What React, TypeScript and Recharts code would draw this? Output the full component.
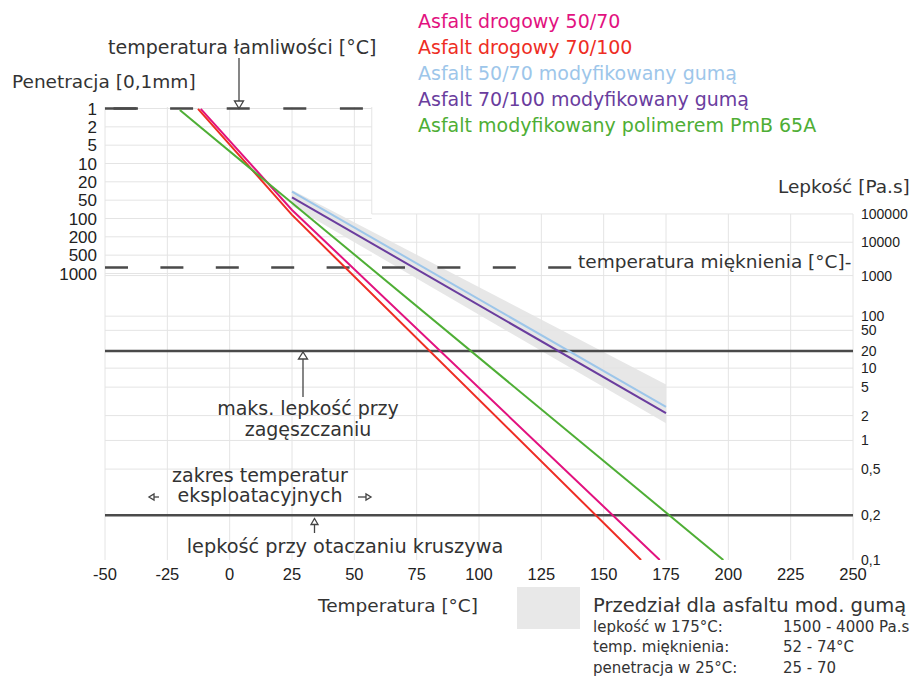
import React from 'react';
import { ComposedChart, Line, Area, XAxis, YAxis, ReferenceLine, Legend } from 'recharts';

// ---------------- data ----------------
const temperatureTicks = [-50, -25, 0, 25, 50, 75, 100, 125, 150, 175, 200, 225, 250];
const penetrationTicks = [1, 2, 5, 10, 20, 50, 100, 200, 500, 1000];
const penetrationLabels = ['1', '2', '5', '10', '20', '50', '100', '200', '500', '1000'];
const viscosityTicks = [0.1, 0.2, 0.5, 1, 2, 5, 10, 20, 50, 100, 1000, 10000, 100000];
const viscosityLabels = ['0,1', '0,2', '0,5', '1', '2', '5', '10', '20', '50', '100', '1000', '10000', '100000'];

const seriesNames = [
  'Asfalt drogowy 50/70',
  'Asfalt drogowy 70/100',
  'Asfalt 50/70 modyfikowany gumą',
  'Asfalt 70/100 modyfikowany gumą',
  'Asfalt modyfikowany polimerem PmB 65A',
];
const seriesColors = ['#e2127f', '#ee2d24', '#9dc6ea', '#6a3d9e', '#4eae35'];

// temperature [°C] and viscosity [Pa.s] along each line
const temp5070 = [-11.6, 25, 172.5];
const visc5070 = [2.4e10, 1.43e5, 0.1];
const temp70100 = [-12.7, 25, 165];
const visc70100 = [2.4e10, 9.2e4, 0.1];
const tempRubber5070 = [25, 175];
const viscRubber5070 = [8.0e5, 2.6];
const tempRubber70100 = [25, 175];
const viscRubber70100 = [4.6e5, 2.15];
const tempPmB = [-20, 198];
const viscPmB = [2.0e10, 0.1];

// range for rubber modified bitumen
const bandTemp = [25, 175];
const bandViscLow = [2.04e5, 1.6];
const bandViscHigh = [9.5e5, 5.5];

const fraassPenetration = 1;
const softeningPenetration = 800;
const compactionMaxViscosity = 20;
const mixingViscosity = 0.2;

const bandInfoLabels = ['lepkość w 175°C:', 'temp. mięknienia:', 'penetracja w 25°C:'];
const bandInfoValues = ['1500 - 4000 Pa.s', '52 - 74°C', '25 - 70'];

// ---------------- scales ----------------
const VISC_OFFSET = 130;
const tv = (eta: number) => Math.log10(Math.log10(eta * VISC_OFFSET));
const penIndex = (p: number) => {
  const v = penetrationTicks;
  if (p <= v[0]) return 0;
  for (let i = 0; i < v.length - 1; i++) {
    if (p <= v[i + 1]) return i + Math.log(p / v[i]) / Math.log(v[i + 1] / v[i]);
  }
  return v.length - 1;
};
const viscDomain: [number, number] = [tv(0.1), tv(3.2e10)];
const penDomain: [number, number] = [-0.082, 24.63];
const T_MIN = -50;
const T_MAX = 250;
const BOX_RIGHT = 57;

const viscTickValues = viscosityTicks.map(tv);
const penTickValues = penetrationTicks.map(penIndex);

const toRows = (T: number[], V: number[]) => T.map((t, i) => ({ T: t, v: tv(V[i]) }));
const seriesRows = [
  toRows(temp5070, visc5070),
  toRows(temp70100, visc70100),
  toRows(tempRubber5070, viscRubber5070),
  toRows(tempRubber70100, viscRubber70100),
  toRows(tempPmB, viscPmB),
];
const bandRows = bandTemp.map((t, i) => ({ T: t, range: [tv(bandViscLow[i]), tv(bandViscHigh[i])] }));

const GRID = '#e4e4e4';
const DARK = '#4a4a4a';
const TXT = '#333';
const SANS = "'DejaVu Sans', sans-serif";
const ARIAL = "'Liberation Sans', Arial, sans-serif";

const renderLegend = (props: any) => {
  const payload = (props.payload || [])
    .filter((e: any) => e.type !== 'none' && seriesNames.indexOf(e.value) >= 0)
    .slice()
    .sort((a: any, b: any) => seriesNames.indexOf(a.value) - seriesNames.indexOf(b.value));
  return (
    <div style={{ fontFamily: SANS, fontSize: 19, lineHeight: '26px' }}>
      {payload.map((e: any) => (
        <div key={e.value} style={{ color: e.color, whiteSpace: 'nowrap' }}>{e.value}</div>
      ))}
    </div>
  );
};

export default function App() {
  const vGrid = temperatureTicks.map((T) => (
    <ReferenceLine
      key={'vg' + T}
      yAxisId="visc"
      segment={[{ x: T, y: viscDomain[0] }, { x: T, y: T <= BOX_RIGHT ? viscDomain[1] : tv(100000) }]}
      stroke={GRID}
      strokeWidth={1}
    />
  ));
  const hViscGrid = viscosityTicks.slice(1).map((v) => (
    <ReferenceLine
      key={'hv' + v}
      yAxisId="visc"
      segment={[{ x: v >= 10000 ? BOX_RIGHT : T_MIN, y: tv(v) }, { x: T_MAX, y: tv(v) }]}
      stroke={GRID}
      strokeWidth={1}
    />
  ));
  const hPenGrid = penTickValues.map((p, i) => (
    <ReferenceLine
      key={'hp' + i}
      yAxisId="pen"
      segment={[{ x: T_MIN, y: p }, { x: BOX_RIGHT, y: p }]}
      stroke={GRID}
      strokeWidth={1}
    />
  ));

  return (
    <div style={{ position: 'relative', width: 904, height: 670 }}>
      <ComposedChart width={904} height={670} margin={{ top: 99, right: 0, bottom: 88, left: 7 }}>
        <XAxis
          dataKey="T"
          type="number"
          domain={[T_MIN, T_MAX]}
          ticks={temperatureTicks}
          interval={0}
          allowDataOverflow
          axisLine={false}
          tickLine={false}
          height={30}
          tick={{ fill: '#222', fontSize: 16.5, fontFamily: ARIAL }}
        />
        <YAxis
          yAxisId="pen"
          orientation="left"
          type="number"
          domain={penDomain}
          reversed
          ticks={penTickValues}
          interval={0}
          allowDataOverflow
          axisLine={false}
          tickLine={false}
          width={90}
          tickFormatter={(v: number) => penetrationLabels[Math.round(v)]}
          tick={{ fill: '#222', fontSize: 17, fontFamily: ARIAL }}
        />
        <YAxis
          yAxisId="visc"
          orientation="right"
          type="number"
          domain={viscDomain}
          ticks={viscTickValues}
          interval={0}
          allowDataOverflow
          axisLine={false}
          tickLine={false}
          width={59}
          tickFormatter={(v: number) => {
            const i = viscTickValues.findIndex((x) => Math.abs(x - v) < 1e-9);
            return i >= 0 ? viscosityLabels[i] : '';
          }}
          tick={{ fill: '#222', fontSize: 14, fontFamily: ARIAL }}
        />

        {vGrid}
        {hViscGrid}
        {hPenGrid}
        <ReferenceLine
          yAxisId="visc"
          segment={[{ x: BOX_RIGHT, y: tv(100000) }, { x: BOX_RIGHT, y: viscDomain[1] }]}
          stroke={GRID}
          strokeWidth={1}
        />

        <Area
          data={bandRows}
          dataKey="range"
          yAxisId="visc"
          type="linear"
          stroke="none"
          fill="#e7e7e7"
          fillOpacity={1}
          legendType="none"
          isAnimationActive={false}
        />

        <ReferenceLine yAxisId="visc" y={tv(compactionMaxViscosity)} stroke={DARK} strokeWidth={2.5} />
        <ReferenceLine yAxisId="visc" y={tv(mixingViscosity)} stroke={DARK} strokeWidth={2.5} />
        <ReferenceLine
          yAxisId="pen"
          segment={[{ x: T_MIN, y: penIndex(fraassPenetration) }, { x: BOX_RIGHT, y: penIndex(fraassPenetration) }]}
          stroke={DARK}
          strokeWidth={2.5}
          strokeDasharray="23 33.6"
          strokeDashoffset={-8.5}
        />
        <ReferenceLine
          yAxisId="pen"
          segment={[{ x: T_MIN, y: penIndex(fraassPenetration) }, { x: -36.8, y: penIndex(fraassPenetration) }]}
          stroke={DARK}
          strokeWidth={2.5}
        />
        <ReferenceLine
          yAxisId="pen"
          segment={[{ x: T_MIN, y: penIndex(softeningPenetration) }, { x: 137, y: penIndex(softeningPenetration) }]}
          stroke={DARK}
          strokeWidth={2.5}
          strokeDasharray="23 32.4"
        />

        {seriesRows.map((rows, i) => (
          <Line
            key={seriesNames[i]}
            data={rows}
            dataKey="v"
            name={seriesNames[i]}
            yAxisId="visc"
            type="linear"
            stroke={seriesColors[i]}
            strokeWidth={2}
            dot={false}
            activeDot={false}
            isAnimationActive={false}
          />
        ))}

        <Legend
          layout="vertical"
          align="center"
          verticalAlign="middle"
          wrapperStyle={{ top: 0, left: 410, width: 440 }}
          content={renderLegend}
        />
      </ComposedChart>

      <svg
        width={920}
        height={686}
        style={{ position: 'absolute', left: -8, top: -8, pointerEvents: 'none' }}
      >
        <g fontFamily={SANS} fill={TXT}>
          <text x={108} y={54} fontSize={19}>temperatura łamliwości [°C]</text>
          <text x={12} y={88} fontSize={18.5}>Penetracja [0,1mm]</text>
          <text x={778} y={193} fontSize={18.5}>Lepkość [Pa.s]</text>
          <text x={578} y={268} fontSize={18.5}>temperatura mięknienia [°C]-</text>
          <text x={308} y={415} fontSize={19} textAnchor="middle">maks. lepkość przy</text>
          <text x={308} y={436} fontSize={19} textAnchor="middle">zagęszczaniu</text>
          <text x={260} y={482} fontSize={19} textAnchor="middle">zakres temperatur</text>
          <text x={260} y={502} fontSize={19} textAnchor="middle">eksploatacyjnych</text>
          <text x={345} y={553} fontSize={19.3} textAnchor="middle">lepkość przy otaczaniu kruszywa</text>
          <text x={398} y={612} fontSize={18.5} textAnchor="middle">Temperatura [°C]</text>
          <text x={593} y={612} fontSize={19.5}>Przedział dla asfaltu mod. gumą</text>
          {bandInfoLabels.map((l, i) => (
            <text key={l} x={593} y={631.5 + i * 20.5} fontSize={15}>{l}</text>
          ))}
          {bandInfoValues.map((l, i) => (
            <text key={l} x={783} y={631.5 + i * 20.5} fontSize={15}>{l}</text>
          ))}
        </g>
        <rect x={517} y={587} width={63} height={42} fill="#e8e8e8" />
        <g stroke="#444" strokeWidth={1.3} fill="#fff">
          <line x1={239} y1={58} x2={239} y2={101} />
          <polygon points="234.5,101 243.5,101 239,108.5" />
          <line x1={303} y1={359} x2={303} y2={397} />
          <polygon points="298.5,359 307.5,359 303,352" />
          <line x1={314.5} y1={524.5} x2={314.5} y2={533} />
          <polygon points="311,524.5 318,524.5 314.5,518.5" />
          <line x1={154} y1={497} x2={159} y2={497} />
          <polygon points="154,494 154,500 149,497" />
          <line x1={358} y1={497} x2={366} y2={497} />
          <polygon points="366,494 366,500 371,497" />
        </g>
      </svg>
    </div>
  );
}
